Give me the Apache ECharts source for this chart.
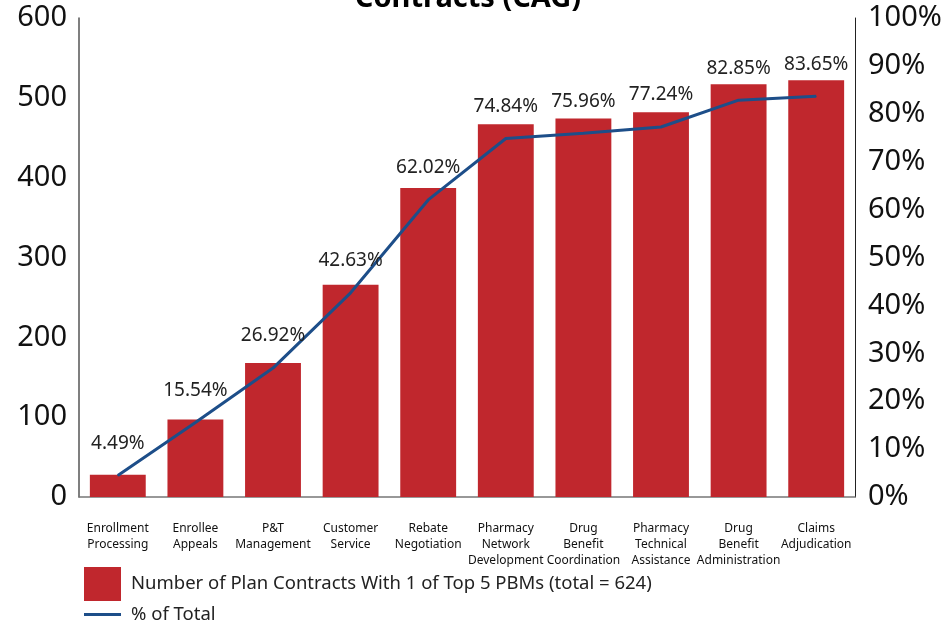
<!DOCTYPE html>
<html><head><meta charset="utf-8">
<script src="https://cdn.jsdelivr.net/npm/echarts@6/dist/echarts.min.js"></script>
<style>html,body{margin:0;padding:0;background:#fff}#c{width:947px;height:624px}</style>
</head><body><div id="c"></div>
<script>
const categories = ["Enrollment\nProcessing","Enrollee\nAppeals","P&T\nManagement","Customer\nService","Rebate\nNegotiation","Pharmacy\nNetwork\nDevelopment","Drug\nBenefit\nCoordination","Pharmacy\nTechnical\nAssistance","Drug\nBenefit\nAdministration","Claims\nAdjudication"];
const contracts = [28, 97, 168, 266, 387, 467, 474, 482, 517, 522];
const pctOfTotal = [4.49, 15.54, 26.92, 42.63, 62.02, 74.84, 75.96, 77.24, 82.85, 83.65];
const barName = "Number of Plan Contracts With 1 of Top 5 PBMs (total = 624)";
const lineName = "% of Total";
const FONT = "Noto Sans";
const chart = echarts.init(document.getElementById('c'));
chart.setOption({
  animation: false,
  textStyle: {fontFamily: FONT},
  title: {text: "Contracts (CAG)", left: 463, textAlign: 'center', top: -21,
    textStyle: {fontFamily: FONT, fontSize: 29, fontWeight: 'bold', color: '#000'}},
  grid: {left: 79, right: 92, top: 18, bottom: 127, containLabel: false},
  legend: [
    {data: [{name: barName, icon: 'rect'}], orient: 'vertical', left: 79, top: 562, itemWidth: 37, itemHeight: 34,
     textStyle: {fontSize: 18.5, color: '#222', fontFamily: FONT, padding: [0, 0, 0, 5]}},
    {data: [{name: lineName, icon: 'rect'}], orient: 'vertical', left: 79, top: 600, itemWidth: 37, itemHeight: 3,
     textStyle: {fontSize: 18.5, color: '#222', fontFamily: FONT, padding: [0, 0, 0, 5]}}
  ],
  xAxis: {type: 'category', data: categories,
    axisLine: {lineStyle: {color: '#777', width: 1.5}}, axisTick: {show: false},
    axisLabel: {interval: 0, fontSize: 12, lineHeight: 16, color: '#111', margin: 24, fontFamily: FONT}},
  yAxis: [
    {type: 'value', min: 0, max: 600, interval: 100, splitLine: {show: false},
     axisLine: {show: true, lineStyle: {color: '#555', width: 1.5}}, axisTick: {show: false},
     axisLabel: {fontSize: 29, color: '#111', margin: 12, fontFamily: FONT}},
    {type: 'value', min: 0, max: 100, interval: 10, splitLine: {show: false}, position: 'right',
     axisLine: {show: true, lineStyle: {color: '#222', width: 1}}, axisTick: {show: false},
     axisLabel: {fontSize: 29, color: '#111', margin: 13, formatter: '{value}%', fontFamily: FONT}}
  ],
  series: [
    {name: barName, type: 'bar', data: contracts, yAxisIndex: 0, barWidth: '72%',
     itemStyle: {color: '#c0272d'}},
    {name: lineName, type: 'line', data: pctOfTotal, yAxisIndex: 1, symbol: 'circle', symbolSize: 1, showSymbol: true,
     lineStyle: {color: '#1d4e89', width: 3}, itemStyle: {color: '#1d4e89'},
     labelLayout: {hideOverlap: false},
     label: {show: true, position: 'top', distance: 22, fontSize: 19, color: '#222', fontFamily: FONT,
       formatter: p => p.value.toFixed(2) + '%'}}
  ]
});
</script></body></html>
